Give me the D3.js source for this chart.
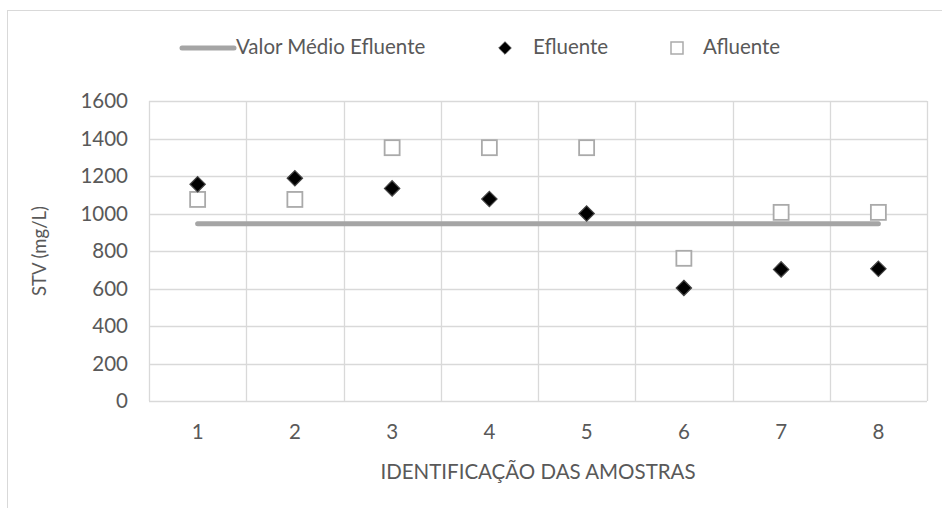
<!DOCTYPE html>
<html>
<head>
<meta charset="utf-8">
<script src="https://cdn.jsdelivr.net/npm/d3@7"></script>
<style>
  html, body { margin: 0; padding: 0; background: #fff; }
  svg { display: block; }
  text { font-family: "Lato", "Open Sans", sans-serif; fill: #595959; }
</style>
</head>
<body>
<svg id="chart" width="942" height="508"></svg>
<script>
// Sample identifiers and measured STV (mg/L)
const amostras = ["1", "2", "3", "4", "5", "6", "7", "8"];
const efluente = [1156, 1188, 1134, 1077, 1000, 603, 702, 705];
const afluente = [1075, 1075, 1351, 1351, 1351, 761, 1006, 1006];
const yTicks = [0, 200, 400, 600, 800, 1000, 1200, 1400, 1600];

const mediaEfluente = d3.mean(efluente);

const W = 942, H = 508;
const plot = { left: 149, right: 927, top: 101, bottom: 401 };
const fs = "20.5px";

const svg = d3.select("#chart");

// outer chart frame
svg.append("rect")
  .attr("x", 7.5).attr("y", 10.5)
  .attr("width", W + 10).attr("height", H + 10)
  .attr("fill", "#fff").attr("stroke", "#d9d9d9").attr("stroke-width", 1);

const x = d3.scaleBand().domain(amostras).range([plot.left, plot.right]);
const y = d3.scaleLinear().domain([0, 1600]).range([plot.bottom, plot.top]);
const cx = d => x(d) + x.bandwidth() / 2;

// horizontal gridlines
svg.append("g")
  .selectAll("line")
  .data(yTicks)
  .join("line")
  .attr("x1", plot.left).attr("x2", plot.right)
  .attr("y1", d => Math.round(y(d)) + 0.5).attr("y2", d => Math.round(y(d)) + 0.5)
  .attr("stroke", "#d9d9d9").attr("stroke-width", 1.3);

// vertical category gridlines
const bounds = amostras.map(d => x(d)).concat([plot.right]);
svg.append("g")
  .selectAll("line")
  .data(bounds)
  .join("line")
  .attr("x1", d => Math.round(d) + 0.5).attr("x2", d => Math.round(d) + 0.5)
  .attr("y1", plot.top).attr("y2", plot.bottom)
  .attr("stroke", "#d9d9d9").attr("stroke-width", 1.3);

// y axis labels
const yAxis = d3.axisLeft(y).tickValues(yTicks).tickFormat(d3.format("d")).tickSize(0).tickPadding(21);
const gy = svg.append("g").attr("transform", `translate(${plot.left},0)`).call(yAxis);
gy.select(".domain").remove();
gy.selectAll("text").style("font-size", fs).attr("fill", "#595959").attr("font-family", null);

// x axis labels
const xAxis = d3.axisBottom(x).tickSize(0).tickPadding(23);
const gx = svg.append("g").attr("transform", `translate(0,${plot.bottom})`).call(xAxis);
gx.select(".domain").remove();
gx.selectAll("text").style("font-size", fs).attr("fill", "#595959").attr("font-family", null);

// axis titles
svg.append("text")
  .attr("transform", `translate(41,${(plot.top + plot.bottom) / 2}) rotate(-90)`)
  .attr("text-anchor", "middle").attr("dominant-baseline", "middle")
  .style("font-size", "18.5px")
  .text("STV (mg/L)");

svg.append("text")
  .attr("x", (plot.left + plot.right) / 2).attr("y", 474)
  .attr("text-anchor", "middle").attr("dominant-baseline", "middle")
  .style("font-size", fs)
  .text("IDENTIFICAÇÃO DAS AMOSTRAS");

// mean line of effluent
svg.append("line")
  .attr("x1", cx(amostras[0])).attr("x2", cx(amostras[amostras.length - 1]))
  .attr("y1", y(mediaEfluente)).attr("y2", y(mediaEfluente))
  .attr("stroke", "#a5a5a5").attr("stroke-width", 5).attr("stroke-linecap", "round");

// influent squares
const sq = 15;
svg.append("g")
  .selectAll("rect")
  .data(afluente)
  .join("rect")
  .attr("x", (d, i) => cx(amostras[i]) - sq / 2)
  .attr("y", d => y(d) - sq / 2)
  .attr("width", sq).attr("height", sq)
  .attr("fill", "#fff").attr("stroke", "#aaaaaa").attr("stroke-width", 1.8);

// effluent diamonds
const diamond = d3.symbol().type(d3.symbolDiamond2).size(150);
svg.append("g")
  .selectAll("path")
  .data(efluente)
  .join("path")
  .attr("d", diamond)
  .attr("transform", (d, i) => `translate(${cx(amostras[i])},${y(d)})`)
  .attr("fill", "#000").attr("stroke", "#444").attr("stroke-width", 1.2);

// legend
const leg = svg.append("g");
const ly = 48;
leg.append("line")
  .attr("x1", 182).attr("x2", 234).attr("y1", ly).attr("y2", ly)
  .attr("stroke", "#a5a5a5").attr("stroke-width", 5).attr("stroke-linecap", "round");
leg.append("text").attr("x", 236).attr("y", ly + 1).attr("dominant-baseline", "middle")
  .style("font-size", fs).text("Valor Médio Efluente");
leg.append("path").attr("d", d3.symbol().type(d3.symbolDiamond2).size(100))
  .attr("transform", `translate(505,${ly})`)
  .attr("fill", "#000").attr("stroke", "#444").attr("stroke-width", 1);
leg.append("text").attr("x", 533).attr("y", ly + 1).attr("dominant-baseline", "middle")
  .style("font-size", fs).text("Efluente");
leg.append("rect").attr("x", 671).attr("y", ly - 6).attr("width", 12).attr("height", 12)
  .attr("fill", "#fff").attr("stroke", "#aaaaaa").attr("stroke-width", 1.5);
leg.append("text").attr("x", 703).attr("y", ly + 1).attr("dominant-baseline", "middle")
  .style("font-size", fs).text("Afluente");
</script>
</body>
</html>
